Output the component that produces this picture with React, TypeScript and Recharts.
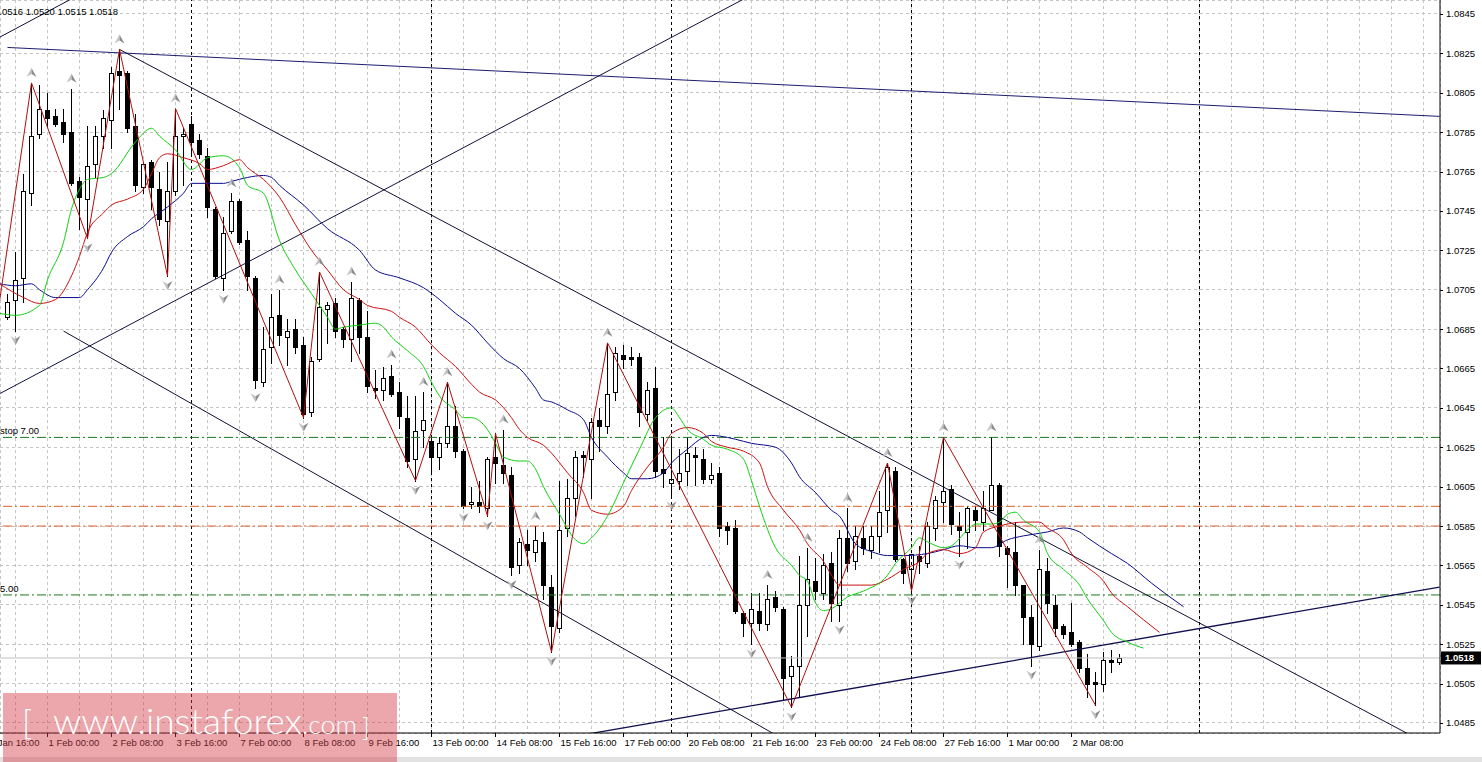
import React from 'react';
import { ComposedChart, Bar, Line, Scatter, XAxis, YAxis, CartesianGrid, ReferenceLine } from 'recharts';

// ---------------- DATA ----------------
// EURUSD H4 candles, index 0 = 31 Jan 04:00
const opens = [
  1.0691, 1.0700, 1.0711, 1.0754, 1.0784, 1.0796, 1.0793, 1.0790, 1.0785, 1.0760,
  1.0751, 1.0769, 1.0783, 1.0791, 1.0816, 1.0815, 1.0788, 1.0757, 1.0770, 1.0756,
  1.0740, 1.0755, 1.0783, 1.0789, 1.0781, 1.0773, 1.0746, 1.0711, 1.0735, 1.0750,
  1.0730, 1.0711, 1.0658, 1.0676, 1.0692, 1.0681, 1.0685, 1.0677, 1.0643, 1.0670,
  1.0695, 1.0698, 1.0685, 1.0680, 1.0700, 1.0681, 1.0655, 1.0654, 1.0661, 1.0653,
  1.0640, 1.0619, 1.0634, 1.0628, 1.0620, 1.0627, 1.0636, 1.0623, 1.0596, 1.0597,
  1.0594, 1.0620, 1.0616, 1.0611, 1.0565, 1.0576, 1.0572, 1.0577, 1.0554, 1.0533,
  1.0584, 1.0599, 1.0621, 1.0619, 1.0639, 1.0636, 1.0653, 1.0672, 1.0671, 1.0671,
  1.0642, 1.0655, 1.0614, 1.0607, 1.0608, 1.0613, 1.0621, 1.0619, 1.0609, 1.0612,
  1.0585, 1.0584, 1.0541, 1.0536, 1.0542, 1.0535, 1.0549, 1.0543, 1.0509, 1.0514,
  1.0545, 1.0557, 1.0551, 1.0566, 1.0545, 1.0579, 1.0567, 1.0579, 1.0573, 1.0580,
  1.0593, 1.0613, 1.0568, 1.0563, 1.0570, 1.0566, 1.0584, 1.0597, 1.0604, 1.0585,
  1.0582, 1.0593, 1.0587, 1.0593, 1.0606, 1.0574, 1.0572, 1.0555, 1.0539, 1.0524,
  1.0562, 1.0545, 1.0534, 1.0531, 1.0526, 1.0513, 1.0506, 1.0505, 1.0517, 1.0516,
];
const highs = [
  1.0703, 1.0724, 1.0764, 1.0810, 1.0809, 1.0805, 1.0797, 1.0797, 1.0807, 1.0762,
  1.0788, 1.0788, 1.0796, 1.0818, 1.0827, 1.0816, 1.0794, 1.0770, 1.0771, 1.0765,
  1.0770, 1.0797, 1.0787, 1.0793, 1.0784, 1.0777, 1.0747, 1.0742, 1.0754, 1.0751,
  1.0735, 1.0712, 1.0686, 1.0703, 1.0705, 1.0690, 1.0690, 1.0681, 1.0671, 1.0714,
  1.0699, 1.0701, 1.0686, 1.0709, 1.0701, 1.0694, 1.0664, 1.0666, 1.0667, 1.0658,
  1.0651, 1.0651, 1.0653, 1.0631, 1.0630, 1.0658, 1.0646, 1.0624, 1.0605, 1.0608,
  1.0620, 1.0632, 1.0634, 1.0615, 1.0579, 1.0583, 1.0585, 1.0582, 1.0560, 1.0608,
  1.0609, 1.0623, 1.0623, 1.0640, 1.0645, 1.0678, 1.0676, 1.0677, 1.0676, 1.0673,
  1.0658, 1.0666, 1.0630, 1.0630, 1.0624, 1.0630, 1.0625, 1.0624, 1.0617, 1.0615,
  1.0587, 1.0588, 1.0542, 1.0551, 1.0551, 1.0555, 1.0552, 1.0544, 1.0519, 1.0570,
  1.0574, 1.0569, 1.0571, 1.0572, 1.0583, 1.0594, 1.0585, 1.0585, 1.0585, 1.0603,
  1.0617, 1.0615, 1.0569, 1.0571, 1.0575, 1.0587, 1.0600, 1.0630, 1.0606, 1.0592,
  1.0595, 1.0595, 1.0603, 1.0630, 1.0607, 1.0575, 1.0587, 1.0555, 1.0545, 1.0573,
  1.0569, 1.0550, 1.0535, 1.0546, 1.0527, 1.0520, 1.0511, 1.0521, 1.0522, 1.0520,
];
const lows = [
  1.0690, 1.0684, 1.0699, 1.0748, 1.0782, 1.0788, 1.0788, 1.0780, 1.0758, 1.0736,
  1.0731, 1.0762, 1.0777, 1.0777, 1.0797, 1.0785, 1.0755, 1.0754, 1.0746, 1.0738,
  1.0712, 1.0753, 1.0758, 1.0774, 1.0772, 1.0742, 1.0711, 1.0705, 1.0734, 1.0728,
  1.0705, 1.0655, 1.0656, 1.0668, 1.0677, 1.0667, 1.0673, 1.0640, 1.0641, 1.0669,
  1.0678, 1.0681, 1.0676, 1.0669, 1.0673, 1.0653, 1.0650, 1.0649, 1.0651, 1.0635,
  1.0615, 1.0608, 1.0625, 1.0612, 1.0614, 1.0625, 1.0620, 1.0594, 1.0594, 1.0592,
  1.0590, 1.0607, 1.0607, 1.0560, 1.0561, 1.0565, 1.0567, 1.0548, 1.0521, 1.0531,
  1.0580, 1.0590, 1.0610, 1.0599, 1.0623, 1.0632, 1.0649, 1.0665, 1.0667, 1.0636,
  1.0639, 1.0610, 1.0605, 1.0600, 1.0604, 1.0606, 1.0606, 1.0607, 1.0607, 1.0580,
  1.0576, 1.0541, 1.0529, 1.0525, 1.0532, 1.0532, 1.0542, 1.0497, 1.0493, 1.0498,
  1.0529, 1.0548, 1.0548, 1.0537, 1.0537, 1.0562, 1.0563, 1.0571, 1.0569, 1.0572,
  1.0582, 1.0567, 1.0556, 1.0552, 1.0561, 1.0564, 1.0578, 1.0587, 1.0581, 1.0570,
  1.0574, 1.0583, 1.0583, 1.0593, 1.0570, 1.0554, 1.0550, 1.0525, 1.0514, 1.0522,
  1.0541, 1.0529, 1.0528, 1.0524, 1.0511, 1.0498, 1.0494, 1.0501, 1.0511, 1.0515,
];
const closes = [
  1.0699, 1.0710, 1.0755, 1.0783, 1.0797, 1.0792, 1.0789, 1.0784, 1.0759, 1.0752,
  1.0768, 1.0783, 1.0792, 1.0815, 1.0814, 1.0787, 1.0758, 1.0769, 1.0757, 1.0741,
  1.0755, 1.0783, 1.0784, 1.0780, 1.0774, 1.0747, 1.0712, 1.0734, 1.0750, 1.0729,
  1.0712, 1.0659, 1.0675, 1.0691, 1.0682, 1.0684, 1.0676, 1.0642, 1.0669, 1.0696,
  1.0697, 1.0684, 1.0680, 1.0701, 1.0681, 1.0656, 1.0654, 1.0660, 1.0652, 1.0641,
  1.0618, 1.0633, 1.0639, 1.0620, 1.0627, 1.0636, 1.0623, 1.0595, 1.0597, 1.0595,
  1.0619, 1.0617, 1.0612, 1.0564, 1.0577, 1.0573, 1.0578, 1.0555, 1.0534, 1.0583,
  1.0599, 1.0620, 1.0620, 1.0638, 1.0636, 1.0652, 1.0673, 1.0670, 1.0670, 1.0643,
  1.0654, 1.0613, 1.0612, 1.0609, 1.0612, 1.0622, 1.0620, 1.0609, 1.0611, 1.0584,
  1.0583, 1.0542, 1.0536, 1.0543, 1.0536, 1.0548, 1.0544, 1.0508, 1.0514, 1.0545,
  1.0558, 1.0552, 1.0565, 1.0546, 1.0579, 1.0566, 1.0580, 1.0574, 1.0580, 1.0592,
  1.0615, 1.0568, 1.0561, 1.0571, 1.0567, 1.0585, 1.0598, 1.0603, 1.0586, 1.0583,
  1.0594, 1.0588, 1.0594, 1.0606, 1.0575, 1.0571, 1.0555, 1.0539, 1.0525, 1.0563,
  1.0546, 1.0533, 1.0530, 1.0525, 1.0513, 1.0505, 1.0505, 1.0517, 1.0516, 1.0518,
];

// Alligator lines: [bar index, price]
const lipsPts: [number, number][] = [
  [-1, 1.0693], [1, 1.0692], [4, 1.0697], [5, 1.0710], [7, 1.0729], [8, 1.0746], [9, 1.0756], [10, 1.0761],
  [12, 1.0762], [13, 1.0764], [16, 1.0780], [18, 1.0787], [19, 1.0783], [21, 1.0776], [23, 1.0766], [25, 1.0772],
  [27, 1.0773], [29, 1.0767], [30, 1.0758], [32, 1.0754], [34, 1.0730], [36, 1.0715], [38, 1.0703], [40, 1.0691],
  [41, 1.0685], [42, 1.0686], [44, 1.0687], [46, 1.0688], [47, 1.0686], [48, 1.0681], [50, 1.0674], [52, 1.0666],
  [53, 1.0658], [54, 1.0651], [56, 1.0644], [57, 1.0640], [58, 1.0640], [60, 1.0634], [61, 1.0627], [62, 1.0620],
  [64, 1.0618], [65, 1.0618], [66, 1.0614], [67, 1.0605], [69, 1.0591], [71, 1.0578], [72, 1.0576], [73, 1.0579],
  [75, 1.0590], [77, 1.0607], [79, 1.0624], [81, 1.0640], [83, 1.0645], [84, 1.0640], [85, 1.0634], [87, 1.0629],
  [88, 1.0626], [90, 1.0624], [92, 1.0619], [93, 1.0608], [94, 1.0595], [96, 1.0574], [98, 1.0565], [99, 1.0560],
  [100, 1.0557], [101, 1.0546], [102, 1.0542], [103, 1.0543], [105, 1.0549], [107, 1.0552], [110, 1.0560], [111, 1.0566],
  [113, 1.0574], [114, 1.0579], [115, 1.0577], [117, 1.0574], [118, 1.0575], [120, 1.0583], [121, 1.0586], [123, 1.0586],
  [124, 1.0587], [125, 1.0591], [126, 1.0592], [127, 1.0588], [129, 1.0582], [130, 1.0571], [132, 1.0563], [134, 1.0555],
  [135, 1.0548], [137, 1.0537], [138, 1.0531], [140, 1.0526], [142, 1.0523],
];
const teethPts: [number, number][] = [
  [-1, 1.0708], [2, 1.0701], [4, 1.0698], [6, 1.0700], [8, 1.0712], [9, 1.0722], [10, 1.0734], [12, 1.0744],
  [13, 1.0748], [15, 1.0751], [17, 1.0756], [18, 1.0764], [19, 1.0772], [20, 1.0774], [22, 1.0772], [24, 1.0769],
  [25, 1.0766], [27, 1.0768], [29, 1.0771], [30, 1.0767], [32, 1.0761], [33, 1.0757], [34, 1.0752], [36, 1.0738],
  [38, 1.0725], [40, 1.0715], [42, 1.0705], [44, 1.0700], [45, 1.0697], [48, 1.0694], [49, 1.0691], [51, 1.0686],
  [53, 1.0677], [54, 1.0673], [56, 1.0666], [58, 1.0657], [59, 1.0653], [61, 1.0649], [63, 1.0640], [64, 1.0634],
  [65, 1.0630], [67, 1.0626], [68, 1.0622], [70, 1.0612], [72, 1.0602], [73, 1.0593], [75, 1.0591], [77, 1.0595],
  [78, 1.0603], [80, 1.0615], [82, 1.0625], [83, 1.0632], [85, 1.0635], [87, 1.0632], [88, 1.0628], [90, 1.0625],
  [92, 1.0623], [94, 1.0617], [95, 1.0605], [97, 1.0593], [99, 1.0583], [100, 1.0576], [102, 1.0567], [103, 1.0560],
  [104, 1.0555], [105, 1.0555], [108, 1.0555], [110, 1.0558], [112, 1.0563], [114, 1.0567], [115, 1.0571], [117, 1.0573],
  [119, 1.0571], [121, 1.0574], [122, 1.0582], [124, 1.0585], [125, 1.0586], [127, 1.0587], [129, 1.0587], [130, 1.0584],
  [132, 1.0578], [133, 1.0571], [135, 1.0564], [137, 1.0557], [138, 1.0551], [140, 1.0544], [144, 1.0531],
];
const jawPts: [number, number][] = [
  [-1, 1.0708], [1, 1.0707], [3, 1.0708], [4, 1.0705], [6, 1.0701], [9, 1.0701], [10, 1.0705], [12, 1.0716],
  [13, 1.0724], [15, 1.0732], [17, 1.0737], [18, 1.0741], [20, 1.0747], [22, 1.0754], [23, 1.0759], [25, 1.0759],
  [27, 1.0759], [28, 1.0760], [30, 1.0762], [32, 1.0763], [33, 1.0762], [34, 1.0758], [37, 1.0748], [40, 1.0736],
  [44, 1.0725], [46, 1.0715], [49, 1.0711], [52, 1.0706], [54, 1.0700], [56, 1.0693], [58, 1.0687], [60, 1.0678],
  [62, 1.0670], [64, 1.0665], [66, 1.0655], [67, 1.0649], [68, 1.0648], [70, 1.0644], [72, 1.0639], [73, 1.0630],
  [75, 1.0620], [77, 1.0612], [78, 1.0609], [80, 1.0609], [82, 1.0612], [83, 1.0617], [85, 1.0624], [87, 1.0630],
  [88, 1.0631], [90, 1.0630], [92, 1.0628], [93, 1.0627], [96, 1.0625], [98, 1.0617], [99, 1.0610], [101, 1.0602],
  [103, 1.0593], [104, 1.0590], [106, 1.0576], [108, 1.0572], [110, 1.0570], [112, 1.0570], [115, 1.0571], [117, 1.0573],
  [119, 1.0575], [121, 1.0574], [123, 1.0574], [125, 1.0578], [127, 1.0580], [130, 1.0582], [132, 1.0584], [134, 1.0582],
  [135, 1.0579], [138, 1.0571], [140, 1.0566], [143, 1.0556], [147, 1.0544],
];
const zigzagPts: [number, number][] = [
  [-1, 1.0699], [3, 1.0810], [10, 1.0731], [14, 1.0827], [20, 1.0712], [21, 1.0797], [37, 1.0640], [39, 1.0714],
  [51, 1.0608], [55, 1.0658], [60, 1.0590], [61, 1.0632], [68, 1.0521], [75, 1.0678], [98, 1.0493], [110, 1.0617],
  [113, 1.0552], [117, 1.0630], [136, 1.0494],
];
const fractalUpIdx = [3, 8, 14, 21, 28, 34, 39, 43, 48, 52, 55, 62, 66, 75, 95, 100, 105, 110, 117, 123, 129];
const fractalDownIdx = [1, 10, 20, 27, 31, 37, 51, 57, 60, 63, 68, 83, 93, 98, 104, 113, 119, 128, 136];

// horizontal levels
const levelPrices = [1.0630, 1.0595, 1.0585, 1.0550];
const levelTexts = ['stop 7.00', '', '', '5.00'];
const bidPrice = 1.0518;
// trend lines: [[index, price], [index, price]]
const trendLines: [number, number][][] = [
  [[0, 1.0828], [179, 1.0793]],
  [[14, 1.0827], [179, 1.0471]],
  [[7, 1.0684], [96, 1.0479]],
  [[-2, 1.0650], [95, 1.0859]],
  [[-2, 1.0831], [10, 1.0857]],
  [[72, 1.0479], [179, 1.0554]],
];
const separatorIdx = [23, 53, 83, 113, 149];

// axes
const priceTicks = [1.0845, 1.0825, 1.0805, 1.0785, 1.0765, 1.0745, 1.0725, 1.0705, 1.0685, 1.0665,
  1.0645, 1.0625, 1.0605, 1.0585, 1.0565, 1.0545, 1.0525, 1.0505, 1.0485];
const dateLabelIdx = [-3, 5, 13, 21, 29, 37, 45, 53, 61, 69, 77, 85, 93, 101, 109, 117, 125, 133];
const dateLabels = ['30 Jan 16:00', '1 Feb 00:00', '2 Feb 08:00', '3 Feb 16:00', '7 Feb 00:00', '8 Feb 08:00',
  '9 Feb 16:00', '13 Feb 00:00', '14 Feb 08:00', '15 Feb 16:00', '17 Feb 00:00', '20 Feb 08:00', '21 Feb 16:00',
  '23 Feb 00:00', '24 Feb 08:00', '27 Feb 16:00', '1 Mar 00:00', '2 Mar 08:00'];
const headerText = '1.0516 1.0520 1.0515 1.0518';

// ---------------- LAYOUT / STYLE ----------------
const W = 1482;
const H = 762;
const FONT = '"Liberation Sans", Arial, sans-serif';
const X_DOMAIN: [number, number] = [-0.9375, 179.0625];
const Y_DOMAIN: [number, number] = [1.04799, 1.08521];
const gridIdx = Array.from({ length: 46 }, (_, k) => -3 + 4 * k);
const levelColors = ['#1a7a1a', '#e0602a', '#e0602a', '#1a7a1a'];
const trendColors = ['#1c1c70', '#101030', '#101030', '#101040', '#101040', '#101050'];
const trendWidths = [1, 1, 1, 1, 1, 1.3];

const candleRows = opens.map((o, i) => ({ i, o, h: highs[i], l: lows[i], c: closes[i] }));
const toRows = (pts: [number, number][]) => pts.map(([i, v]) => ({ i, v }));
const upRows = fractalUpIdx.map((i) => ({ i, p: highs[i] }));
const downRows = fractalDownIdx.map((i) => ({ i, p: lows[i] }));

const Candle = (props: any) => {
  const { x, y, width, height, payload } = props;
  if (!payload || height == null || !isFinite(y)) return null;
  const { o, h, l, c } = payload;
  const span = h - l || 1e-9;
  const py = (v: number) => y + ((h - v) / span) * height;
  const cx = Math.floor(x + width / 2) + 0.5;
  const yH = Math.round(py(h));
  const yL = Math.round(py(l));
  const top = Math.round(py(Math.max(o, c)));
  const bot = Math.round(py(Math.min(o, c)));
  const bull = c >= o;
  return (
    <g shapeRendering="crispEdges">
      <line x1={cx} x2={cx} y1={yH} y2={yL + 1} stroke="#000" strokeWidth={1} />
      {bot - top < 1 ? (
        <line x1={cx - 2.5} x2={cx + 2.5} y1={top + 0.5} y2={top + 0.5} stroke="#000" strokeWidth={1} />
      ) : (
        <rect x={cx - 2} y={top + 0.5} width={4} height={bot - top} fill={bull ? '#fff' : '#000'} stroke="#000" strokeWidth={1} />
      )}
    </g>
  );
};

const UpArrow = (props: any) => {
  const { cx, cy } = props;
  if (cx == null || cy == null) return null;
  const c = cy - 10;
  return (
    <g>
      <path d={`M${cx},${c - 5} L${cx - 5},${c + 4} L${cx},${c + 1} Z`} fill="#c4c4c4" />
      <path d={`M${cx},${c - 5} L${cx + 5},${c + 4} L${cx},${c + 1} Z`} fill="#8c8c8c" />
    </g>
  );
};
const DownArrow = (props: any) => {
  const { cx, cy } = props;
  if (cx == null || cy == null) return null;
  const c = cy + 9;
  return (
    <g>
      <path d={`M${cx},${c + 5} L${cx - 5},${c - 4} L${cx},${c - 1} Z`} fill="#c4c4c4" />
      <path d={`M${cx},${c + 5} L${cx + 5},${c - 4} L${cx},${c - 1} Z`} fill="#8c8c8c" />
    </g>
  );
};

const YTick = (props: any) => {
  const { x, y, payload } = props;
  return (
    <g>
      <line x1={x} x2={x + 3} y1={Math.round(y) + 0.5} y2={Math.round(y) + 0.5} stroke="#000" />
      <text x={x + 6} y={y + 3.5} fontSize={9.5} fill="#000" fontFamily={FONT}>
        {Number(payload.value).toFixed(4)}
      </text>
    </g>
  );
};

const XTick = (props: any) => {
  const { x, y, payload } = props;
  const k = dateLabelIdx.indexOf(payload.value);
  if (k < 0) return null;
  return (
    <g>
      <line x1={x} x2={x} y1={y} y2={y + 4} stroke="#000" />
      <text x={x + 1} y={y + 12.5} fontSize={9.5} fill="#000" fontFamily={FONT}>
        {dateLabels[k]}
      </text>
    </g>
  );
};

const LevelLabel = (props: any) => {
  const { viewBox, text } = props;
  if (!viewBox || !text) return null;
  return (
    <text x={viewBox.x + 0} y={viewBox.y - 3} fontSize={9.5} fill="#000" fontFamily={FONT}>
      {text}
    </text>
  );
};

const BidLabel = (props: any) => {
  const { viewBox, value } = props;
  if (!viewBox) return null;
  const x0 = viewBox.x + viewBox.width + 1;
  const yc = viewBox.y;
  return (
    <g>
      <rect x={x0} y={yc - 6.5} width={40} height={13} fill="#000" />
      <text x={x0 + 4} y={yc + 3.5} fontSize={9.5} fill="#fff" fontWeight="bold" fontFamily={FONT}>
        {value}
      </text>
    </g>
  );
};

export default function App() {
  return (
    <div style={{ position: 'absolute', left: 0, top: 0, width: W, height: H, background: '#fff', overflow: 'hidden' }}>
      <ComposedChart
        width={W}
        height={H}
        data={candleRows}
        margin={{ top: 0, right: 0, bottom: 0, left: 0 }}
        style={{ fontFamily: FONT }}
      >
        <CartesianGrid stroke="#c4c4c4" strokeDasharray="3 3" shapeRendering="crispEdges" />
        <XAxis
          dataKey="i"
          type="number"
          domain={X_DOMAIN}
          allowDataOverflow
          ticks={gridIdx}
          interval={0}
          tick={<XTick />}
          tickLine={false}
          tickSize={0}
          tickMargin={0}
          height={29}
          axisLine={{ stroke: '#000' }}
        />
        <YAxis
          orientation="right"
          type="number"
          domain={Y_DOMAIN}
          allowDataOverflow
          ticks={priceTicks}
          interval={0}
          tick={<YTick />}
          tickLine={false}
          tickSize={0}
          tickMargin={0}
          width={42}
          axisLine={{ stroke: '#000' }}
        />
        {separatorIdx.map((s) => (
          <ReferenceLine key={'sep' + s} x={s} stroke="#000" strokeDasharray="3 3" ifOverflow="hidden" />
        ))}
        {levelPrices.map((p, k) => (
          <ReferenceLine
            key={'lvl' + k}
            y={p}
            stroke={levelColors[k]}
            strokeDasharray="9 3 2 3"
            label={<LevelLabel text={levelTexts[k]} />}
          />
        ))}
        <ReferenceLine y={bidPrice} stroke="#c0c0c0" label={<BidLabel value={bidPrice.toFixed(4)} />} />
        <Bar dataKey={(d: any) => [d.l, d.h]} barSize={5} shape={<Candle />} isAnimationActive={false} />
        {trendLines.map((seg, k) => (
          <ReferenceLine
            key={'tl' + k}
            segment={[{ x: seg[0][0], y: seg[0][1] }, { x: seg[1][0], y: seg[1][1] }]}
            stroke={trendColors[k]}
            strokeWidth={trendWidths[k]}
            ifOverflow="hidden"
          />
        ))}
        <Line data={toRows(jawPts)} dataKey="v" type="monotone" stroke="#0a0a8c" strokeWidth={1} dot={false} activeDot={false} isAnimationActive={false} />
        <Line data={toRows(teethPts)} dataKey="v" type="monotone" stroke="#cc1010" strokeWidth={1} dot={false} activeDot={false} isAnimationActive={false} />
        <Line data={toRows(lipsPts)} dataKey="v" type="monotone" stroke="#10d010" strokeWidth={1} dot={false} activeDot={false} isAnimationActive={false} />
        <Line data={toRows(zigzagPts)} dataKey="v" type="linear" stroke="#b01010" strokeWidth={1} dot={false} activeDot={false} isAnimationActive={false} />
        <Scatter data={upRows} dataKey="p" shape={<UpArrow />} isAnimationActive={false} />
        <Scatter data={downRows} dataKey="p" shape={<DownArrow />} isAnimationActive={false} />
      </ComposedChart>
      <svg width={W} height={H} style={{ position: 'absolute', left: 0, top: 0, pointerEvents: 'none' }}>
        <text x={-6} y={14.5} fontSize={9.5} fill="#000" fontFamily={FONT}>{headerText}</text>
        <rect x={0} y={757} width={W} height={5} fill="#e2e2e2" />
        <rect x={3} y={693} width={394} height={69} fill="rgba(210,60,70,0.45)" />
        <text x={22} y={735} fontSize={34} fill="#fff" fontFamily="Lato, 'Open Sans', sans-serif" fontWeight={300}>[</text>
        <text x={53} y={734} fontSize={36} fill="#fff" fontFamily="Lato, 'Open Sans', sans-serif" fontWeight={300}
          textLength={249} lengthAdjust="spacingAndGlyphs">www.instaforex</text>
        <text x={302} y={734} fontSize={25} fill="#fff" fontFamily="Lato, 'Open Sans', sans-serif" fontWeight={300}
          textLength={55} lengthAdjust="spacingAndGlyphs">.com</text>
        <text x={362} y={737} fontSize={26} fill="#fff" fontFamily="Lato, 'Open Sans', sans-serif" fontWeight={300}>]</text>
      </svg>
    </div>
  );
}
